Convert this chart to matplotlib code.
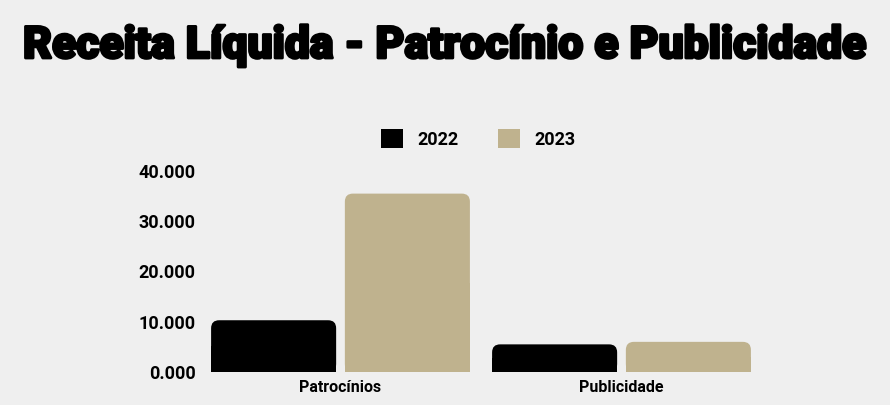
import matplotlib
matplotlib.use("Agg")
import matplotlib.pyplot as plt
import matplotlib.patches as mpatches
import matplotlib.patheffects as pe
import numpy as np

categorias = ["Patrocínios", "Publicidade"]
anos = ["2022", "2023"]
valores_2022 = [10300, 5500]
valores_2023 = [35500, 6000]
yticks = [0, 10000, 20000, 30000, 40000]
ytick_labels = ["0.000", "10.000", "20.000", "30.000", "40.000"]
cores = ["#000000", "#bfb28e"]

plt.rcParams['font.family'] = ['Roboto', 'DejaVu Sans']

fig = plt.figure(figsize=(8.9, 4.05), dpi=100)
fig.patch.set_facecolor("#efefef")
ax = fig.add_axes([200/890, 1-372/405, 562/890, (372-171)/405])
ax.set_facecolor("none")
ax.set_xlim(-0.5, 1.5)
ax.set_ylim(0, 40000)

x = np.arange(len(categorias))
w = 0.445
off = 0.238
# raio em pixels -> unidades de dados
px_x = 1/281.0
px_y = 40000/201.0
r = 8*px_x
aspect = px_y/px_x

for serie, vals, cor in [(0, valores_2022, cores[0]), (1, valores_2023, cores[1])]:
    for xi, v in zip(x, vals):
        x0 = xi + (off if serie else -off) - w/2
        ax.add_patch(mpatches.FancyBboxPatch((x0, 0), w, v,
                     boxstyle="round,pad=0,rounding_size=%f" % r,
                     mutation_aspect=aspect, fc=cor, ec="none"))
        ax.add_patch(mpatches.Rectangle((x0, 0), w, v/2, fc=cor, ec="none"))

ax.set_xticks(x)
ax.set_xticklabels(categorias, fontsize=11.5, fontweight="bold")
ax.set_yticks(yticks)
ax.set_yticklabels(ytick_labels, fontsize=13, fontweight="bold")
ax.tick_params(length=0, pad=3)
ax.tick_params(axis="x", pad=6)
for s in ax.spines.values():
    s.set_visible(False)

handles = [mpatches.Patch(fc=c, ec="none") for c in cores]
fig.legend(handles, anos, loc="center", bbox_to_anchor=(478/890, 1-139/405),
           ncol=2, frameon=False, prop={"size": 13, "weight": "bold"},
           handlelength=1.2, handleheight=1.2, handletextpad=0.8, columnspacing=2.2)

fig.text(445/890, 1-46/405, "Receita Líquida - Patrocínio e Publicidade",
         ha="center", va="center", fontsize=32, fontweight="black",
         path_effects=[pe.withStroke(linewidth=2, foreground="black")])

fig.savefig("out.png", dpi=100, facecolor=fig.get_facecolor())
